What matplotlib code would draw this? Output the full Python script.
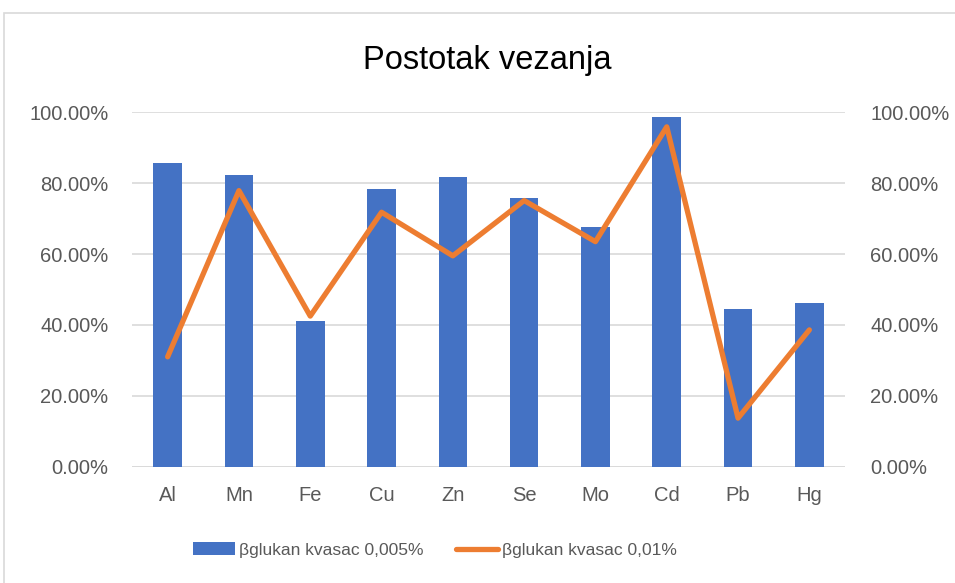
import matplotlib
matplotlib.use("Agg")
import matplotlib.pyplot as plt
from matplotlib.patches import Patch, Rectangle
from matplotlib.lines import Line2D
from matplotlib.ticker import PercentFormatter
import numpy as np

plt.rcParams['font.family'] = ['Liberation Sans', 'DejaVu Sans']

metals = ["Al", "Mn", "Fe", "Cu", "Zn", "Se", "Mo", "Cd", "Pb", "Hg"]
beta_0005 = [85.7, 82.2, 41.1, 78.3, 81.7, 75.7, 67.5, 98.6, 44.4, 46.2]
beta_001 = [31.0, 77.9, 42.5, 71.8, 59.5, 75.1, 63.5, 95.9, 13.7, 38.6]
y_ticks = [0, 20, 40, 60, 80, 100]
label_bar = "βglukan kvasac 0,005%"
label_line = "βglukan kvasac 0,01%"
title = "Postotak vezanja"

BLUE = "#4472C4"
ORANGE = "#ED7D31"
GRID = "#D9D9D9"
TEXT = "#595959"

W, H = 955, 583
fig = plt.figure(figsize=(W / 100, H / 100), dpi=100)

# chart frame
fig.add_artist(Rectangle((4 / W, -0.02), 1.2, (H - 13) / H + 0.02, transform=fig.transFigure,
                         fill=False, edgecolor=GRID, linewidth=1.2))

left, right = 132 / W, 845 / W
bottom = (H - 466.7) / H
top = (H - 112.3) / H
ax = fig.add_axes([left, bottom, right - left, top - bottom])

x = np.arange(len(metals))
ax.bar(x, beta_0005, width=0.40, color=BLUE, zorder=2)
ax.set_xlim(-0.5, len(metals) - 0.5)
ax.set_ylim(0, 100)
ax.set_yticks(y_ticks)
ax.yaxis.set_major_formatter(PercentFormatter(decimals=2))
ax.grid(axis='y', color=GRID, linewidth=1.2, zorder=0)
ax.set_axisbelow(True)
for s in ax.spines.values():
    s.set_visible(False)
ax.axhline(0, color=GRID, linewidth=1.2, zorder=1)
ax.set_xticks(x)
ax.set_xticklabels(metals)
ax.tick_params(axis='both', length=0, labelsize=14.5, labelcolor=TEXT)
ax.tick_params(axis='y', pad=17)
ax.tick_params(axis='x', pad=14)

ax2 = ax.twinx()
ax2.plot(x, beta_001, color=ORANGE, linewidth=3.8, solid_capstyle='round',
         solid_joinstyle='round', zorder=3)
ax2.set_ylim(0, 100)
ax2.set_yticks(y_ticks)
ax2.yaxis.set_major_formatter(PercentFormatter(decimals=2))
for s in ax2.spines.values():
    s.set_visible(False)
ax2.tick_params(axis='y', length=0, labelsize=14.5, labelcolor=TEXT, pad=18)

fig.text(487 / W, 1 - 60 / H, title, ha='center', va='center', fontsize=23.5, color='black')

handles = [Patch(facecolor=BLUE, edgecolor='none'),
           Line2D([0], [0], color=ORANGE, linewidth=3.8, solid_capstyle='round')]
fig.legend(handles, [label_bar, label_line], loc='center left', bbox_to_anchor=(193 / W, 1 - 550 / H),
           ncol=2, frameon=False, fontsize=12.6, labelcolor=TEXT, handlelength=2.4,
           handleheight=0.7, handletextpad=0.2, columnspacing=1.9, borderpad=0,
           borderaxespad=0)

fig.savefig("out.png", dpi=100)
